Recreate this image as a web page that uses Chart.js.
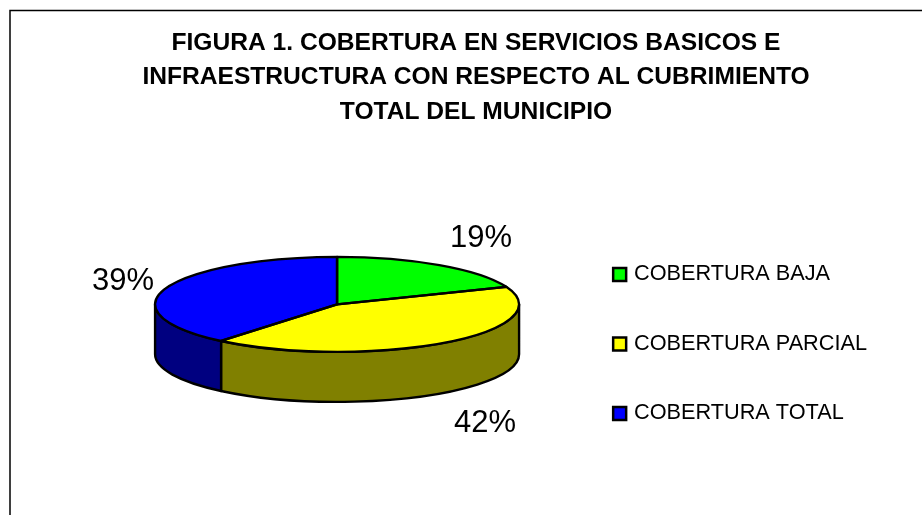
<!DOCTYPE html>
<html>
<head>
<meta charset="utf-8">
<title>Figura 1</title>
<script src="https://cdn.jsdelivr.net/npm/chart.js@4/dist/chart.umd.js"></script>
<style>
    html, body { margin: 0; padding: 0; background: #fff; }
    canvas { display: block; }
</style>
</head>
<body>
<canvas id="pie" width="922" height="515"></canvas>
<script>
// Data
const categories = ['COBERTURA BAJA', 'COBERTURA PARCIAL', 'COBERTURA TOTAL'];
const percentages = [19, 42, 39];
const titleLines = [
    'FIGURA 1. COBERTURA EN SERVICIOS BASICOS E',
    'INFRAESTRUCTURA CON RESPECTO AL CUBRIMIENTO',
    'TOTAL DEL MUNICIPIO'
];

// Style
const topColors = ['#00ff00', '#ffff00', '#0000ff'];
const wallColors = ['#008000', '#808000', '#000080'];
const FONT = '"Liberation Sans", Arial, sans-serif';
const PIE_RADIUS = 182;
const PIE_RADIUS_Y = 47.5;
const PIE_DEPTH = 50;
const PIE_LINE = 2.4;
const percentLabelPos = [[481, 238], [485, 423], [123, 281]];

// Flattens the library's arcs into a tilted disc with a side wall
const tiltedPie = {
    id: 'tiltedPie',
    afterLayout(chart) {
        // title and legend do not sit where the default layout puts them
        chart.titleBlock.left = 30;
        chart.titleBlock.right = 922;
        chart.legend.top += 104;
        chart.legend.bottom += 104;
    },
    beforeDraw(chart) {
        const ctx = chart.ctx;
        ctx.save();
        ctx.strokeStyle = '#000';
        ctx.lineWidth = 1.5;
        ctx.beginPath();
        ctx.moveTo(10, 515);
        ctx.lineTo(10, 10.5);
        ctx.lineTo(922, 10.5);
        ctx.stroke();
        ctx.restore();
    },
    beforeDatasetsDraw(chart) {
        const ctx = chart.ctx;
        const arcs = chart.getDatasetMeta(0).data;

        ctx.save();
        ctx.strokeStyle = '#000';
        ctx.lineWidth = PIE_LINE;
        ctx.lineJoin = 'round';
        arcs.forEach((arc, i) => {
            // only the front half of the rim can be seen
            const from = Math.max(arc.startAngle, 0);
            const to = Math.min(arc.endAngle, Math.PI);
            if (to <= from) return;
            ctx.beginPath();
            ctx.ellipse(arc.x, arc.y, arc.outerRadius, PIE_RADIUS_Y, 0, from, to);
            ctx.ellipse(arc.x, arc.y + PIE_DEPTH, arc.outerRadius, PIE_RADIUS_Y, 0, to, from, true);
            ctx.closePath();
            ctx.fillStyle = wallColors[i];
            ctx.fill();
            ctx.stroke();
        });
        ctx.restore();

        const first = arcs[0];
        ctx.save();
        ctx.translate(first.x, first.y);
        ctx.scale(1, PIE_RADIUS_Y / first.outerRadius);
        ctx.translate(-first.x, -first.y);
    },
    afterDatasetsDraw(chart) {
        const ctx = chart.ctx;
        ctx.restore();

        ctx.save();
        ctx.strokeStyle = '#000';
        ctx.lineWidth = PIE_LINE;
        ctx.lineJoin = 'round';
        chart.getDatasetMeta(0).data.forEach(arc => {
            ctx.beginPath();
            ctx.moveTo(arc.x, arc.y);
            ctx.ellipse(arc.x, arc.y, arc.outerRadius, PIE_RADIUS_Y, 0, arc.startAngle, arc.endAngle);
            ctx.closePath();
            ctx.stroke();
        });

        ctx.fillStyle = '#000';
        ctx.font = '31px ' + FONT;
        ctx.textAlign = 'center';
        ctx.textBaseline = 'middle';
        percentages.forEach((value, i) => {
            ctx.fillText(value + '%', percentLabelPos[i][0], percentLabelPos[i][1]);
        });
        ctx.restore();
    }
};

new Chart(document.getElementById('pie'), {
    type: 'pie',
    data: {
        labels: categories,
        datasets: [{
            data: percentages,
            backgroundColor: topColors,
            borderWidth: 0,
            radius: PIE_RADIUS,
            clip: false
        }]
    },
    options: {
        responsive: false,
        animation: false,
        events: [],
        layout: {
            padding: { left: 105.8, right: 45, top: 0, bottom: 35.25 }
        },
        plugins: {
            tooltip: { enabled: false },
            title: {
                display: true,
                text: titleLines,
                color: '#000',
                padding: { top: 25.5, bottom: 0 },
                font: { family: FONT, size: 24.6, weight: 'bold', lineHeight: 1.402 }
            },
            legend: {
                position: 'right',
                labels: {
                    color: '#000',
                    font: { family: FONT, size: 21.7 },
                    usePointStyle: true,
                    boxWidth: 7,
                    boxHeight: 13,
                    padding: 47.8,
                    generateLabels: () => categories.map((text, i) => ({
                        text,
                        fillStyle: topColors[i],
                        strokeStyle: '#000',
                        lineWidth: 2.5,
                        pointStyle: 'rect',
                        index: i,
                        hidden: false
                    }))
                }
            }
        }
    },
    plugins: [tiltedPie]
});
</script>
</body>
</html>
